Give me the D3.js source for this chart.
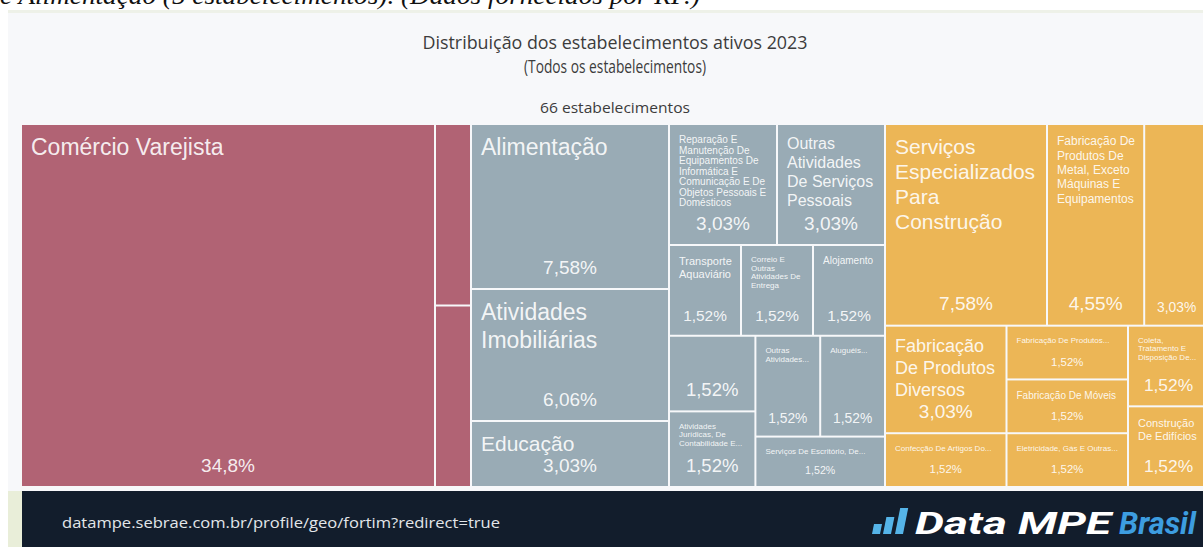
<!DOCTYPE html>
<html>
<head>
<meta charset="utf-8">
<script src="https://cdn.jsdelivr.net/npm/d3@7"></script>
<style>
  body { margin: 0; background: #fff; }
  svg { display: block; }
</style>
</head>
<body>
<div id="chart"></div>
<script>
var width = 1203,
    height = 547;

// sectors (colour groups of the treemap)
var sectors = ["Comércio", "Serviços", "Indústria"];

// activities, their sector and number of active establishments
var activities = [
    "Comércio Varejista", "", "",
    "Alimentação", "Atividades Imobiliárias", "Educação",
    "Reparação E Manutenção De Equipamentos De Informática E Comunicação E De Objetos Pessoais E Domésticos",
    "Outras Atividades De Serviços Pessoais", "Transporte Aquaviário",
    "Correio E Outras Atividades De Entrega", "Alojamento", "",
    "Atividades Jurídicas, De Contabilidade E De Auditoria",
    "Outras Atividades Profissionais, Científicas E Técnicas",
    "Aluguéis Não-Imobiliários E Gestão De Ativos Intangíveis Não-Financeiros",
    "Serviços De Escritório, De Apoio Administrativo E Outros Serviços Prestados Principalmente Às Empresas",
    "Serviços Especializados Para Construção",
    "Fabricação De Produtos De Metal, Exceto Máquinas E Equipamentos", "",
    "Fabricação De Produtos Diversos", "Confecção De Artigos Do Vestuário E Acessórios",
    "Fabricação De Produtos Alimentícios", "Fabricação De Móveis",
    "Eletricidade, Gás E Outras Utilidades",
    "Coleta, Tratamento E Disposição De Resíduos; Recuperação De Materiais",
    "Construção De Edifícios"
];
var activitySector = [
    "Comércio", "Comércio", "Comércio",
    "Serviços", "Serviços", "Serviços", "Serviços", "Serviços", "Serviços",
    "Serviços", "Serviços", "Serviços", "Serviços", "Serviços", "Serviços", "Serviços",
    "Indústria", "Indústria", "Indústria", "Indústria", "Indústria",
    "Indústria", "Indústria", "Indústria", "Indústria", "Indústria"
];
var establishments = [
    23, 1, 1,
    5, 4, 2, 2, 2, 1, 1, 1, 1, 1, 1, 1, 1,
    5, 3, 2, 2, 1, 1, 1, 1, 1, 1
];

var sectorColor = d3.scaleOrdinal()
    .domain(sectors)
    .range(["#b16374", "#99abb5", "#ecb656"]);

var total = d3.sum(establishments);
var ptBR = d3.formatLocale({decimal: ",", thousands: ".", grouping: [3], currency: ["R$", ""]});
var fmtShare = ptBR.format(".3r");

var tree = {
    name: "root",
    children: sectors.map(function (s) {
        return {
            name: s,
            children: activities.map(function (a, i) {
                return {name: a, sector: activitySector[i], count: establishments[i]};
            }).filter(function (d) { return d.sector === s; })
        };
    })
};

var root = d3.hierarchy(tree)
    .sum(function (d) { return d.count || 0; })
    .sort(function (a, b) { return b.value - a.value; });

var tmW = 1186, tmH = 361;
d3.treemap().size([tmW, tmH]).paddingInner(2)(root);

var svg = d3.select("#chart").append("svg")
    .attr("width", width)
    .attr("height", height);

// text from the surrounding document, cut by the screenshot
svg.append("text")
    .attr("x", 0).attr("y", 4)
    .attr("font-family", "'Liberation Serif', 'DejaVu Serif', serif")
    .attr("font-style", "italic")
    .attr("font-size", 26)
    .attr("fill", "#111")
    .attr("textLength", 700)
    .attr("lengthAdjust", "spacingAndGlyphs")
    .text("e Alimentação (5 estabelecimentos). (Dados fornecidos por RF.)");

// card
svg.append("rect").attr("x", 8).attr("y", 10).attr("width", width - 8).attr("height", 481).attr("fill", "#f7f8fa");
svg.append("rect").attr("x", 8).attr("y", 10).attr("width", width - 8).attr("height", 3).attr("fill", "#eef1e8");

var titleFont = "'Open Sans', 'Noto Sans', sans-serif";
var titles = [
    {t: "Distribuição dos estabelecimentos ativos 2023", y: 49, len: 385, fs: 18},
    {t: "(Todos os estabelecimentos)", y: 73, len: 182, fs: 18},
    {t: "66 estabelecimentos", y: 113, len: 150, fs: 15}
];
svg.selectAll("text.title").data(titles).enter().append("text")
    .attr("class", "title")
    .attr("x", 615)
    .attr("y", function (d) { return d.y; })
    .attr("text-anchor", "middle")
    .attr("font-family", titleFont)
    .attr("font-size", function (d) { return d.fs; })
    .attr("fill", "#3c3c3c")
    .attr("textLength", function (d) { return d.len; })
    .attr("lengthAdjust", "spacingAndGlyphs")
    .text(function (d) { return d.t; });

// ---- treemap ----
var labelFont = "'Liberation Sans', Arial, sans-serif";
var ctx = document.createElement("canvas").getContext("2d");
function measure(s, fs) {
    ctx.font = fs + "px " + labelFont;
    return ctx.measureText(s).width;
}
function lineH(fs) { return fs < 11 ? fs * 1.05 : fs * 1.2; }

function wrapWords(words, fs, maxW, maxLines) {
    var lines = [], line = "";
    for (var i = 0; i < words.length; i++) {
        var t = line ? line + " " + words[i] : words[i];
        if (measure(t, fs) <= maxW) { line = t; continue; }
        if (!line || measure(words[i], fs) > maxW || lines.length + 1 >= maxLines) {
            if (line) lines.push(line);
            return {lines: lines, complete: false};
        }
        lines.push(line);
        line = words[i];
    }
    if (line) lines.push(line);
    return {lines: lines, complete: true};
}

function fitName(name, w, h) {
    if (!name) return null;
    var words = name.split(" "), fs, r, maxLines;
    for (fs = 23; fs >= 8; fs--) {
        maxLines = Math.floor(h / lineH(fs));
        if (maxLines < 1) continue;
        r = wrapWords(words, fs, w, maxLines);
        if (r.complete) return {fs: fs, lines: r.lines};
    }
    fs = 8;
    maxLines = Math.floor(h / lineH(fs));
    if (maxLines < 1) return null;
    r = wrapWords(words, fs, w, maxLines);
    if (!r.lines.length) return null;
    var last = r.lines[r.lines.length - 1];
    while (measure(last + "...", fs) > w && last.indexOf(" ") > 0) {
        last = last.slice(0, last.lastIndexOf(" "));
    }
    r.lines[r.lines.length - 1] = last + "...";
    return {fs: fs, lines: r.lines};
}

var tm = svg.append("g").attr("transform", "translate(22,125)");

var cell = tm.selectAll("g.cell")
    .data(root.leaves())
    .enter().append("g")
    .attr("class", "cell")
    .attr("transform", function (d) { return "translate(" + d.x0 + "," + d.y0 + ")"; });

cell.append("rect")
    .attr("width", function (d) { return d.x1 - d.x0; })
    .attr("height", function (d) { return d.y1 - d.y0; })
    .attr("fill", function (d) { return sectorColor(d.data.sector); });

var pad = 8;
cell.each(function (d) {
    var w = d.x1 - d.x0, h = d.y1 - d.y0, el = d3.select(this);
    var pfs = Math.min(19, w * 0.22, h < 60 ? h * 0.22 : h * 0.3);
    if (pfs < 9) pfs = 0;
    if (pfs) {
        el.append("text")
            .attr("x", w / 2)
            .attr("y", h - 10 - pfs * 0.22)
            .attr("text-anchor", "middle")
            .attr("font-family", labelFont)
            .attr("font-size", pfs)
            .attr("fill", "#fff")
            .attr("fill-opacity", 0.9)
            .text(fmtShare(d.value / total * 100) + "%");
    }
    // small cells keep a larger part of their height for the share
    var shareH = pfs ? pfs * 1.2 : 0;
    if (w * h < 8000) shareH = Math.max(shareH, h * 0.42);
    var fit = fitName(d.data.name, w - 2 * pad, h - 2 * pad - shareH);
    if (!fit) return;
    var t = el.append("text")
        .attr("font-family", labelFont)
        .attr("font-size", fit.fs)
        .attr("fill", "#fff")
        .attr("fill-opacity", 0.9);
    t.selectAll("tspan").data(fit.lines).enter().append("tspan")
        .attr("x", pad + 1)
        .attr("y", function (l, i) { return pad + 1 + fit.fs * 0.93 + i * lineH(fit.fs); })
        .text(function (l) { return l; });
});

// ---- footer ----
svg.append("rect").attr("x", 8).attr("y", 491).attr("width", 14).attr("height", 56).attr("fill", "#e9eed9");
svg.append("rect").attr("x", 22).attr("y", 491).attr("width", width - 22).attr("height", 56).attr("fill", "#121d2c");

svg.append("text")
    .attr("x", 62).attr("y", 528)
    .attr("font-family", titleFont)
    .attr("font-size", 15)
    .attr("fill", "#e2e6ea")
    .attr("textLength", 438)
    .attr("lengthAdjust", "spacingAndGlyphs")
    .text("datampe.sebrae.com.br/profile/geo/fortim?redirect=true");

var bars = [{x: 872, h: 10}, {x: 883, h: 17}, {x: 895, h: 26}];
svg.selectAll("path.logo").data(bars).enter().append("path")
    .attr("class", "logo")
    .attr("fill", "#55b4e8")
    .attr("d", function (b) {
        var y1 = 534, y0 = y1 - b.h, s = b.h * 0.2;
        return "M" + b.x + "," + y1 + "L" + (b.x + 8) + "," + y1 +
            "L" + (b.x + 8 + s) + "," + y0 + "L" + (b.x + s) + "," + y0 + "Z";
    });

svg.append("text")
    .attr("x", 915).attr("y", 534)
    .attr("font-family", "Roboto, 'Liberation Sans', sans-serif")
    .attr("font-weight", "bold").attr("font-style", "italic")
    .attr("font-size", 31)
    .attr("fill", "#ffffff")
    .attr("textLength", 196)
    .attr("lengthAdjust", "spacingAndGlyphs")
    .text("Data MPE");
svg.append("text")
    .attr("x", 1119).attr("y", 534)
    .attr("font-family", "Roboto, 'Liberation Sans', sans-serif")
    .attr("font-weight", "bold").attr("font-style", "italic")
    .attr("font-size", 31)
    .attr("fill", "#3d9de0")
    .attr("textLength", 77)
    .attr("lengthAdjust", "spacingAndGlyphs")
    .text("Brasil");
</script>
</body>
</html>
